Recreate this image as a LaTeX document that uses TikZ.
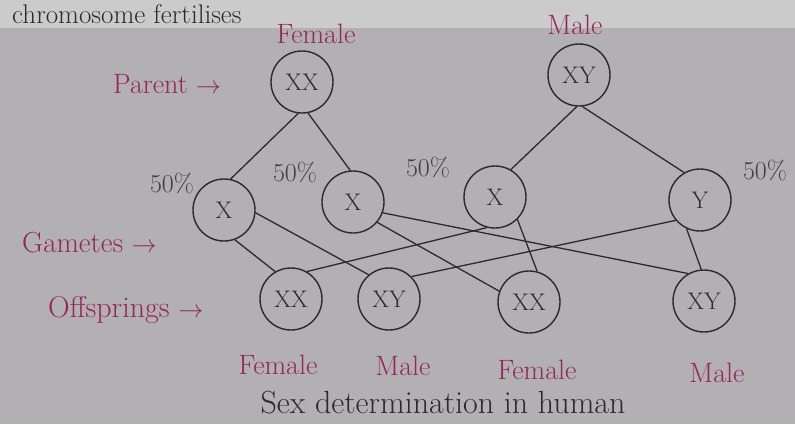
\documentclass[tikz,border=0pt]{standalone}
\definecolor{paper}{RGB}{178,176,179}
\definecolor{paperlt}{RGB}{204,203,204}
\definecolor{pinklbl}{RGB}{150,38,86}
\definecolor{ink}{RGB}{45,42,45}
\begin{document}
\begin{tikzpicture}[x=1pt,y=-1pt,
  chrom/.style={circle,draw=ink,line width=1.4pt,minimum size=62pt,inner sep=0pt,
    text=ink,font=\fontsize{24}{24}\selectfont},
  lbl/.style={text=pinklbl,inner sep=0pt,font=\fontsize{28}{28}\selectfont},
  pct/.style={text=ink!90,inner sep=0pt,font=\fontsize{26}{26}\selectfont},
  link/.style={draw=ink,line width=1.3pt}]
  \useasboundingbox (0,0) rectangle (795,424);
  \fill[paper] (0,0) rectangle (795,424);
  \fill[paperlt] (0,0) rectangle (795,28);
  \node[anchor=base west,inner sep=0pt,text=ink,font=\fontsize{27}{27}\selectfont]
    (top) at (12,23) {chromosome fertilises};

  % parents
  \node[chrom] (mom) at (302,82) {XX};
  \node[chrom] (dad) at (579,75) {XY};
  % gametes
  \node[chrom] (ga) at (224,210) {X};
  \node[chrom] (gb) at (353,202) {X};
  \node[chrom] (gc) at (495,197) {X};
  \node[chrom] (gd) at (700,200) {Y};
  % offsprings
  \node[chrom] (oa) at (291,299) {XX};
  \node[chrom] (ob) at (389,299) {XY};
  \node[chrom] (oc) at (529,302) {XX};
  \node[chrom] (od) at (704,301) {XY};

  \draw[link] (mom.-97) -- (ga.78);
  \draw[link] (mom.-79) -- (gb.95);
  \draw[link] (dad.-94) -- (gc.60);
  \draw[link] (dad.-84) -- (gd.120);

  \draw[link] (ga.-70) -- (oa.120);
  \draw[link] (ga.-5) -- (ob.130);
  \draw[link] (gb.-40) -- (oc.160);
  \draw[link] (gb.-20) -- (od.120);
  \draw[link] (gc.-105) -- (oa.60);
  \draw[link] (gc.-45) -- (oc.75);
  \draw[link] (gd.-140) -- (ob.45);
  \draw[link] (gd.-115) -- (od.95);

  \node[pct] (pa) at (172,183) {50\%};
  \node[pct] (pb) at (295,172) {50\%};
  \node[pct] (pc) at (428,167) {50\%};
  \node[pct] (pd) at (765,170) {50\%};

  \node[lbl] (mfem) at (316,34) {Female};
  \node[lbl] (dmale) at (575,25) {Male};
  \node[lbl,anchor=west] (parent) at (113,84) {Parent $\rightarrow$};
  \node[lbl,anchor=west,font=\fontsize{29}{29}\selectfont] (gamete) at (22,243) {Gametes $\rightarrow$};
  \node[lbl,anchor=west,font=\fontsize{30}{30}\selectfont] (offspr) at (48,310) {Offsprings $\rightarrow$};

  \node[lbl] (fa) at (278,365) {Female};
  \node[lbl] (mb) at (403,366) {Male};
  \node[lbl] (fc) at (537,370) {Female};
  \node[lbl] (md) at (717,373) {Male};

  \node[text=ink,inner sep=0pt,font=\fontsize{32}{32}\selectfont] (caption) at (443,403)
    {Sex determination in human};
\end{tikzpicture}
\end{document}
